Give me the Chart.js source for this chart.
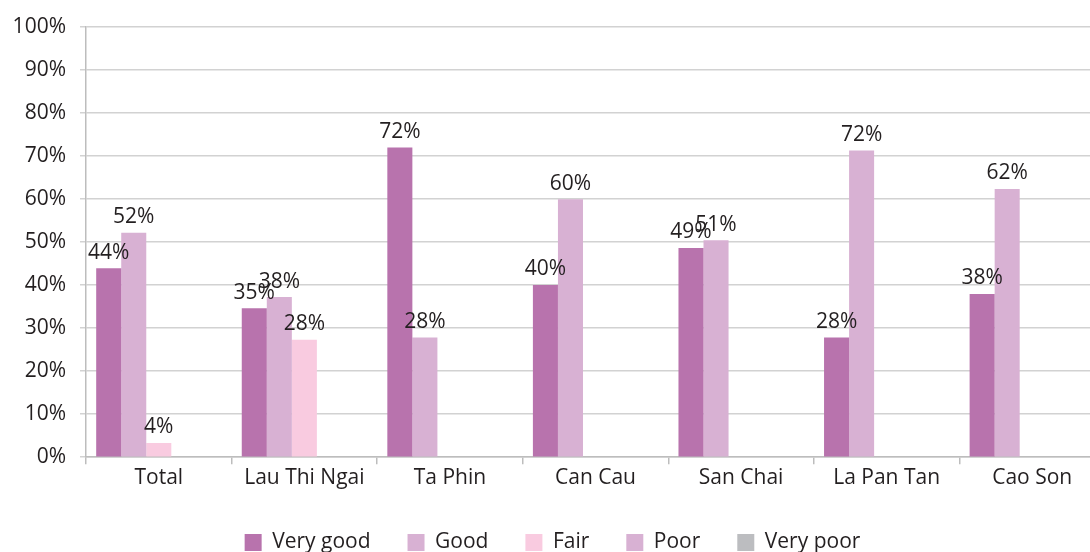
<!DOCTYPE html>
<html><head><meta charset="utf-8">
<script src="https://cdn.jsdelivr.net/npm/chart.js@4/dist/chart.umd.min.js"></script>
<style>
html,body{margin:0;padding:0;background:#fff;overflow:hidden;}
#wrap{width:1090px;height:552px;overflow:hidden;position:relative;}
canvas{display:block;}
</style></head><body>
<div id="wrap"><canvas id="c" width="1105" height="563"></canvas></div>
<script>
const categories = ["Total", "Lau Thi Ngai", "Ta Phin", "Can Cau", "San Chai", "La Pan Tan", "Cao Son"];
const seriesNames = ["Very good", "Good", "Fair", "Poor", "Very poor"];
const veryGood = [43.9, 34.6, 71.9, 40.0, 48.6, 27.8, 37.9];
const good = [52.1, 37.2, 27.8, 59.9, 50.4, 71.2, 62.3];
const fair = [3.3, 27.3, 0, 0, 0, 0, 0];
const poor = [0, 0, 0, 0, 0, 0, 0];
const veryPoor = [0, 0, 0, 0, 0, 0, 0];
// printed data labels as shown on the chart
const veryGoodLabels = ["44%", "35%", "72%", "40%", "49%", "28%", "38%"];
const goodLabels = ["52%", "38%", "28%", "60%", "51%", "72%", "62%"];
const fairLabels = ["4%", "28%", "", "", "", "", ""];
const poorLabels = ["", "", "", "", "", "", ""];
const veryPoorLabels = ["", "", "", "", "", "", ""];
const yTickValues = [0, 10, 20, 30, 40, 50, 60, 70, 80, 90, 100];

const colors = ["#b873ad", "#d8b1d3", "#f9cbe0", "#d8b1d3", "#bcbdc0"];
const seriesValues = [veryGood, good, fair, poor, veryPoor];
const seriesLabels = [veryGoodLabels, goodLabels, fairLabels, poorLabels, veryPoorLabels];

const FONT = "'Open Sans', 'Liberation Sans', sans-serif";
const TEXT = "#231f20";
const FS = 21;

const labelPlugin = {
  id: 'barLabels',
  afterDatasetsDraw(chart) {
    const ctx = chart.ctx;
    ctx.save();
    ctx.font = FS + "px " + FONT;
    ctx.fillStyle = TEXT;
    ctx.textAlign = 'center';
    ctx.textBaseline = 'bottom';
    chart.data.datasets.forEach((ds, i) => {
      const meta = chart.getDatasetMeta(i);
      meta.data.forEach((el, j) => {
        const t = seriesLabels[i][j];
        if (t) ctx.fillText(t, el.x, el.y - 5);
      });
    });
    ctx.restore();
  }
};

new Chart(document.getElementById('c'), {
  type: 'bar',
  data: {
    labels: categories,
    datasets: seriesNames.map((n, i) => ({
      label: n,
      data: seriesValues[i],
      backgroundColor: colors[i],
      borderWidth: 0,
      categoryPercentage: 0.86,
      barPercentage: 1.0
    }))
  },
  options: {
    responsive: false,
    animation: false,
    layout: { padding: { top: 25, right: 0, left: 0, bottom: 0 } },
    plugins: {
      tooltip: { enabled: false },
      legend: {
        position: 'bottom',
        labels: {
          boxWidth: 17, boxHeight: 17, padding: 37,
          color: TEXT,
          font: { family: FONT, size: FS }
        }
      }
    },
    scales: {
      x: {
        offset: true,
        grid: { offset: true, drawOnChartArea: false, drawTicks: true, tickLength: 7, color: '#bdbdbd', lineWidth: 1.5 },
        border: { color: '#bdbdbd', width: 1.5 },
        ticks: { color: TEXT, font: { family: FONT, size: FS }, padding: 1, maxRotation: 0, autoSkip: false },
        afterFit(s) { s.height = 37.8; }
      },
      y: {
        min: 0, max: 100,
        afterBuildTicks(s) { s.ticks = yTickValues.map(v => ({ value: v })); },
        grid: { color: '#d2d2d2', lineWidth: 1.5, tickLength: 6 },
        border: { color: '#bdbdbd', width: 1.5 },
        ticks: { color: TEXT, font: { family: FONT, size: FS }, padding: 14, callback: v => v + '%' },
        afterFit(s) { s.width = 86; }
      }
    }
  },
  plugins: [labelPlugin]
});
</script>
</body></html>
